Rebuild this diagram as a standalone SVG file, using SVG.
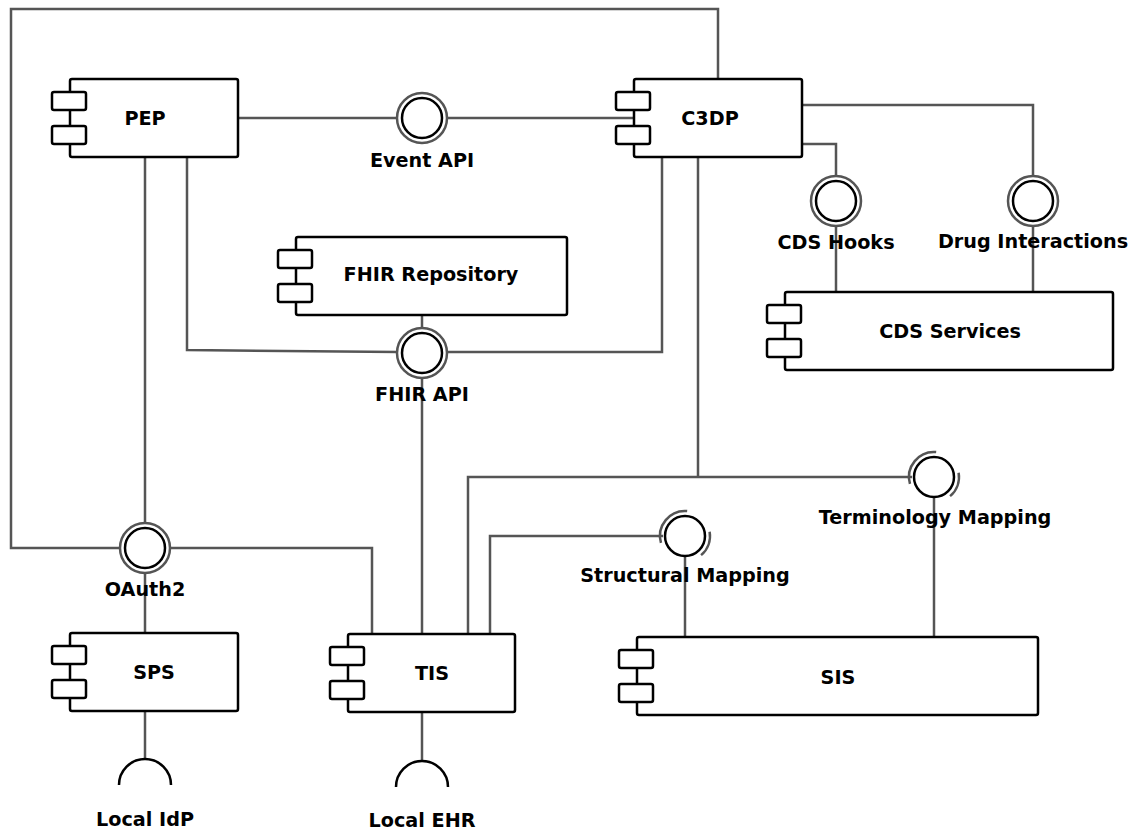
<svg xmlns="http://www.w3.org/2000/svg" width="1130" height="831" viewBox="0 0 1130 831">
<style>
.c{fill:none;stroke:#555;stroke-width:2.5}
.box{fill:#fff;stroke:#000;stroke-width:2.5}
.ring{fill:#fff;stroke:#555;stroke-width:2.5}
.arc{fill:none;stroke:#555;stroke-width:2.5}
.dot{fill:#fff;stroke:#000;stroke-width:2.5}
.sock{fill:none;stroke:#000;stroke-width:2.5}
text{font-family:"DejaVu Sans",sans-serif;font-weight:bold;font-size:19.2px;fill:#000;text-anchor:middle}
</style>
<defs>
<g id="icon">
<rect class="box" x="0" y="0" width="34" height="18" rx="2"/>
<rect class="box" x="0" y="34" width="34" height="18" rx="2"/>
</g>
</defs>
<rect width="1130" height="831" fill="#fff"/>
<g id="connectors">
<path class="c" d="M718,79 V9 H11 V548 H121"/>
<path class="c" d="M238,118 H398 M446,118 H634"/>
<path class="c" d="M145,157 V524 M145,572 V633"/>
<path class="c" d="M187,157 V350 L398,352"/>
<path class="c" d="M422,315 V329"/>
<path class="c" d="M446,352 H662 V157"/>
<path class="c" d="M422,377 V634"/>
<path class="c" d="M422,712 V761"/>
<path class="c" d="M145,711 V759"/>
<path class="c" d="M169,548 H372 V634"/>
<path class="c" d="M698,157 V477"/>
<path class="c" d="M468,634 V477 H912"/>
<path class="c" d="M490,634 V536 H663"/>
<path class="c" d="M685,556 V637"/>
<path class="c" d="M934,498 V637"/>
<path class="c" d="M802,105 H1033 V177"/>
<path class="c" d="M802,144 H836 V177"/>
<path class="c" d="M836,225 V292"/>
<path class="c" d="M1033,225 V292"/>
</g>
<g id="PEP">
<rect class="box" x="70" y="79" width="168" height="78" rx="2"/>
<use href="#icon" x="52" y="92"/>
<text x="145" y="125">PEP</text>
</g>
<g id="C3DP">
<rect class="box" x="634" y="79" width="168" height="78" rx="2"/>
<use href="#icon" x="616" y="92"/>
<text x="710" y="125">C3DP</text>
</g>
<g id="FHIRRepository">
<rect class="box" x="296" y="237" width="271" height="78" rx="2"/>
<use href="#icon" x="278" y="250"/>
<text x="431" y="281">FHIR Repository</text>
</g>
<g id="CDSServices">
<rect class="box" x="785" y="292" width="328" height="78" rx="2"/>
<use href="#icon" x="767" y="305"/>
<text x="950" y="338">CDS Services</text>
</g>
<g id="SPS">
<rect class="box" x="70" y="633" width="168" height="78" rx="2"/>
<use href="#icon" x="52" y="646"/>
<text x="154" y="679">SPS</text>
</g>
<g id="TIS">
<rect class="box" x="348" y="634" width="167" height="78" rx="2"/>
<use href="#icon" x="330" y="647"/>
<text x="432" y="680">TIS</text>
</g>
<g id="SIS">
<rect class="box" x="637" y="637" width="401" height="78" rx="2"/>
<use href="#icon" x="619" y="650"/>
<text x="838" y="684">SIS</text>
</g>
<g id="EventAPI">
<circle class="ring" cx="422" cy="118" r="25"/>
<circle class="dot" cx="422" cy="118" r="20"/>
<text x="422" y="167">Event API</text>
</g>
<g id="CDSHooks">
<circle class="ring" cx="836" cy="201" r="25"/>
<circle class="dot" cx="836" cy="201" r="20"/>
<text x="836" y="249">CDS Hooks</text>
</g>
<g id="DrugInteractions">
<circle class="ring" cx="1033" cy="201" r="25"/>
<circle class="dot" cx="1033" cy="201" r="20"/>
<text x="1033" y="248">Drug Interactions</text>
</g>
<g id="FHIRAPI">
<circle class="ring" cx="422" cy="353" r="25"/>
<circle class="dot" cx="422" cy="353" r="20"/>
<text x="422" y="401">FHIR API</text>
</g>
<g id="OAuth2">
<circle class="ring" cx="145" cy="548" r="25"/>
<circle class="dot" cx="145" cy="548" r="20"/>
<text x="145" y="596">OAuth2</text>
</g>
<g id="TerminologyMapping">
<path class="arc" d="M936.18,452.1 A25,25 0 0 0 909.97,483.89 M958.62,472.66 A25,25 0 0 1 950.07,496.15"/>
<circle class="dot" cx="934" cy="477" r="20"/>
<text x="935" y="524">Terminology Mapping</text>
</g>
<g id="StructuralMapping">
<path class="arc" d="M687.18,511.1 A25,25 0 0 0 660.97,542.89 M709.62,531.66 A25,25 0 0 1 701.07,555.15"/>
<circle class="dot" cx="685" cy="536" r="20"/>
<text x="685" y="582">Structural Mapping</text>
</g>
<g id="LocalIdP">
<path class="sock" d="M119,785 A26,26 0 0 1 171,785"/>
<text x="145" y="826">Local IdP</text>
</g>
<g id="LocalEHR">
<path class="sock" d="M396,787 A26,26 0 0 1 448,787"/>
<text x="422" y="827">Local EHR</text>
</g>
</svg>
